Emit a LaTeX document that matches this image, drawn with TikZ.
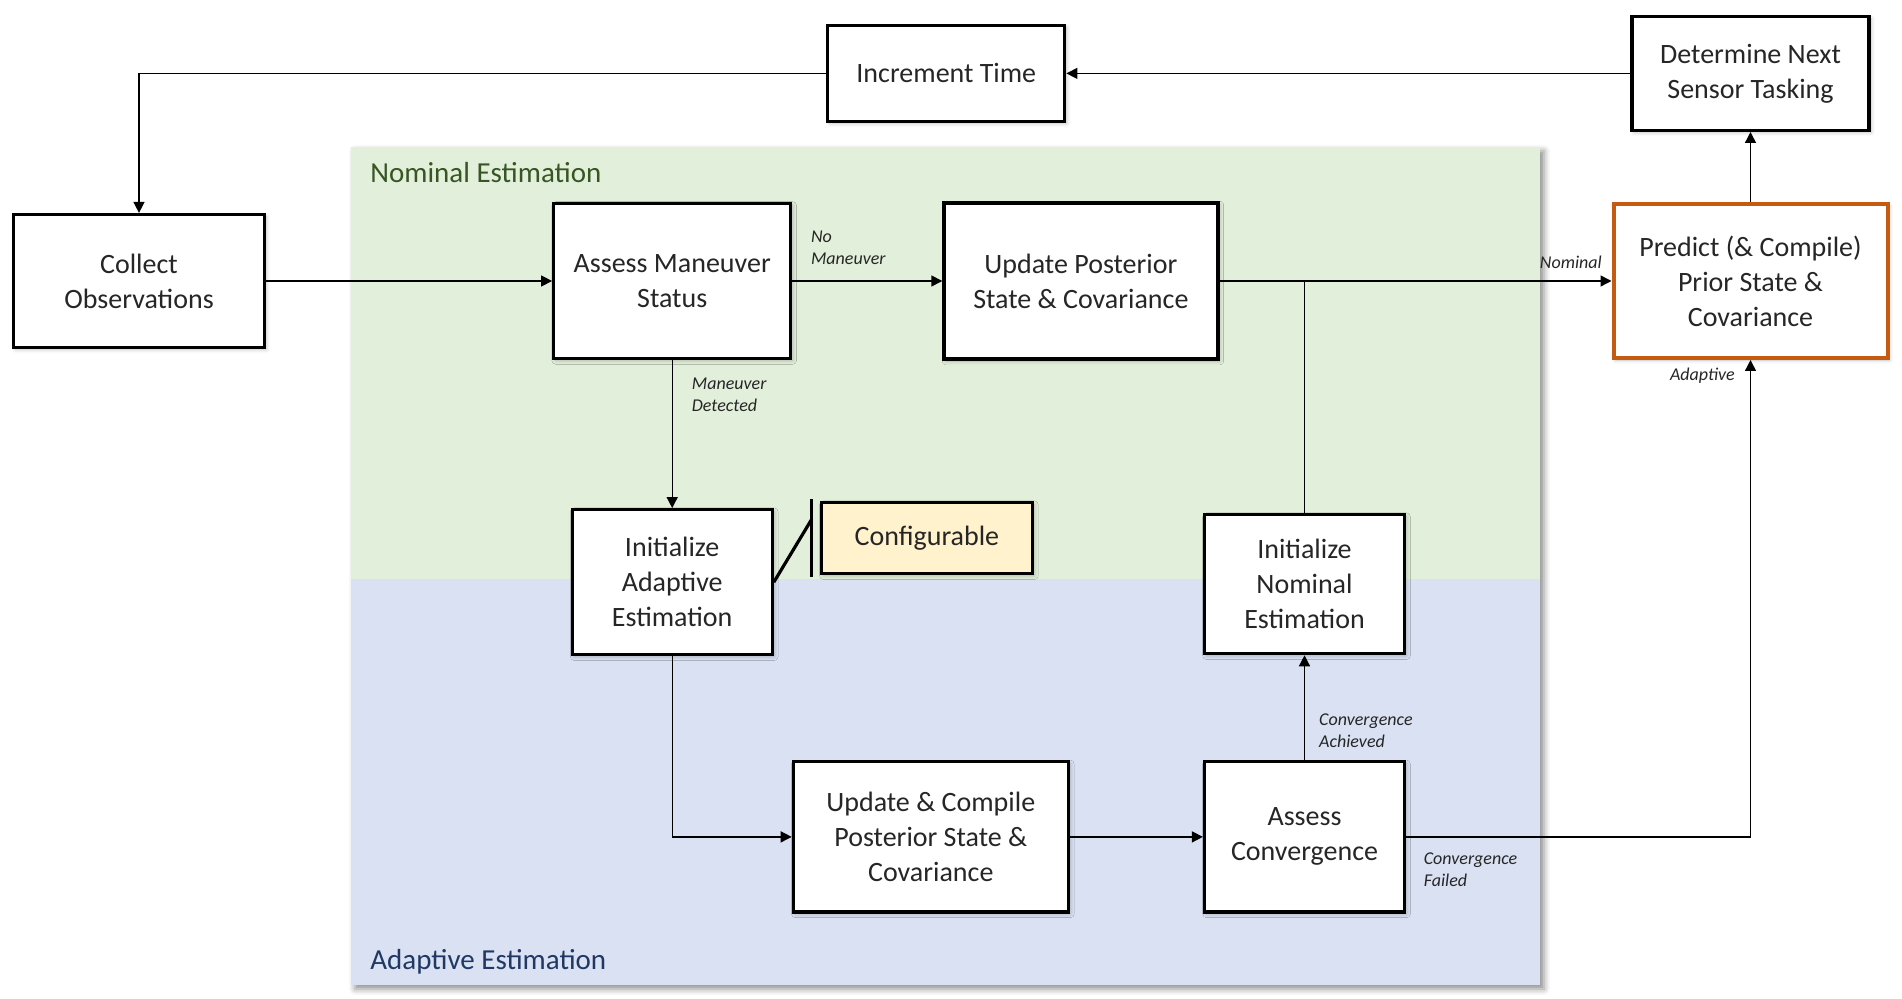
\documentclass[tikz,border=0pt]{standalone}
\usepackage{fontspec}
\setmainfont{Carlito}
\usetikzlibrary{positioning, arrows.meta, shadows.blur, backgrounds}

\definecolor{nomgreen}{HTML}{E2EFDA}
\definecolor{adpblue}{HTML}{D9E1F2}
\definecolor{nomtext}{HTML}{375623}
\definecolor{adptext}{HTML}{203864}
\definecolor{cfgfill}{HTML}{FFF2CC}
\definecolor{predorange}{HTML}{C55A11}

\begin{document}
\begin{tikzpicture}[
  x=0.5pt, y=-0.5pt,
  font=\fontsize{14}{17.5}\selectfont,
  >={Triangle[length=5.5pt,width=5.5pt]},
  procbox/.style={rectangle, draw=black, line width=1.6pt, fill=white, text=black!85, align=center, inner sep=2pt, blur shadow={shadow xshift=1pt, shadow yshift=-1pt, shadow blur steps=4, shadow opacity=25}},
  cfgbox/.style={procbox, fill=cfgfill},
  flowarrow/.style={->, line width=0.7pt},
  flowline/.style={-, line width=0.7pt},
  edgelbl/.style={font=\fontsize{9}{11}\selectfont\itshape, text=black!85, align=left, inner sep=0pt},
  regionlbl/.style={font=\fontsize{14.5}{17}\selectfont, anchor=west, inner sep=0pt}
]
\useasboundingbox (0,0) rectangle (1902,999);

% Main row
\node[procbox, minimum width=125.5pt, minimum height=66.5pt] (collect) at (139,281) {Collect\\Observations};
\node[procbox, minimum width=118.5pt, minimum height=77.5pt, right=143pt of collect] (assess) {Assess Maneuver\\Status};
\node[procbox, minimum width=137pt, minimum height=78pt, right=75pt of assess] (update) {Update Posterior\\State \& Covariance};
\node[procbox, draw=predorange, line width=2pt, minimum width=137pt, minimum height=77pt, right=196pt of update] (predict) {Predict (\& Compile)\\Prior State \&\\Covariance};

% Top row
\node[procbox, minimum width=118.5pt, minimum height=57pt, above=35pt of predict] (determine) {Determine Next\\Sensor Tasking};
\node[procbox, minimum width=118.5pt, minimum height=48pt, left=282pt of determine] (increment) {Increment Time};

% Adaptive branch
\node[procbox, minimum width=100pt, minimum height=72.5pt, below=74pt of assess] (initadapt) {Initialize\\Adaptive\\Estimation};
\node[cfgbox, minimum width=105.5pt, minimum height=35.5pt, right=23pt of initadapt, yshift=22pt] (config) {Configurable};
\node[procbox, minimum width=137.5pt, minimum height=75pt, below right=52pt and 59.75pt of initadapt.south] (compile) {Update \& Compile\\Posterior State \&\\Covariance};
\node[procbox, minimum width=100pt, minimum height=75pt, right=66.5pt of compile] (conv) {Assess\\Convergence};
\node[procbox, minimum width=100pt, minimum height=69.5pt, above=52.5pt of conv] (initnom) {Initialize\\Nominal\\Estimation};

% Regions
\begin{scope}[on background layer]
  \fill[white, blur shadow={shadow xshift=2pt, shadow yshift=-2pt, shadow blur radius=3pt, shadow opacity=45}] (351,147) rectangle (1540,985);
  \fill[nomgreen] (351,147) rectangle (1540,579);
  \fill[adpblue] (351,579) rectangle (1540,985);
\end{scope}
\node[regionlbl, text=nomtext] (nomlbl) at (370,173) {Nominal Estimation};
\node[regionlbl, text=adptext] (adplbl) at (370,962) {Adaptive Estimation};

% Configurable callout
\draw[line width=1.6pt] ([xshift=-4pt,yshift=1pt]config.north west) -- ([xshift=-4pt,yshift=-1pt]config.south west);
\draw[line width=1.6pt] (initadapt.east) -- ([xshift=-4pt,yshift=-9pt]config.north west);

% Routing
\draw[flowarrow] (determine.west) -- (increment.east);
\draw[flowarrow] (increment.west) -| (collect.north);
\draw[flowarrow] (collect) -- (assess);
\draw[flowarrow] (assess) -- node[edgelbl, anchor=south west, pos=0, xshift=9pt, yshift=8pt] (lblnoman) {No\\Maneuver} (update);
\draw[flowarrow] (update) -- node[edgelbl, anchor=south east, pos=1, xshift=-4.5pt, yshift=6pt] (lblnom) {Nominal} (predict);
\draw[flowline] (initnom.north) -- (initnom.north |- update.east);
\draw[flowarrow] (assess) -- node[edgelbl, anchor=north west, pos=0, xshift=9.5pt, yshift=-8.7pt] (lblman) {Maneuver\\Detected} (initadapt);
\draw[flowarrow] (initadapt.south) |- (compile.west);
\draw[flowarrow] (compile) -- (conv);
\draw[flowarrow] (conv) -- node[edgelbl, anchor=south west, pos=0, xshift=7pt, yshift=6pt] (lblach) {Convergence\\Achieved} (initnom);
\draw[flowarrow] (conv.east) -| node[edgelbl, anchor=north west, pos=0, xshift=8.5pt, yshift=-7.6pt] (lblfail) {Convergence\\Failed} node[edgelbl, anchor=north east, pos=1, xshift=-7.5pt, yshift=-3.75pt] (lbladapt) {Adaptive} (predict.south);
\draw[flowarrow] (predict) -- (determine);

\end{tikzpicture}
\end{document}
